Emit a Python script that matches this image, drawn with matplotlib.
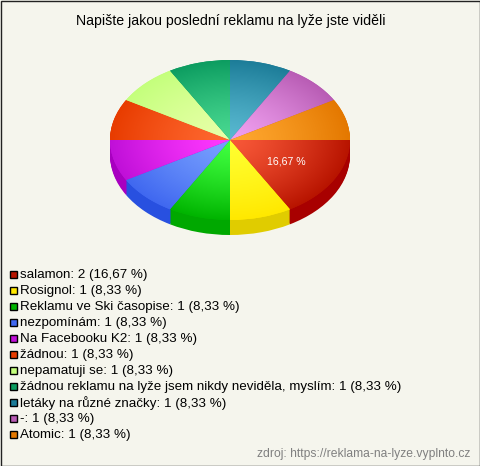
import numpy as np
import matplotlib
matplotlib.use('Agg')
import matplotlib.pyplot as plt
from matplotlib.colors import LinearSegmentedColormap, to_rgb
from matplotlib.patches import Rectangle

plt.rcParams['font.family'] = ['Liberation Sans', 'DejaVu Sans']

W, H = 480, 466

title = 'Napište jakou poslední reklamu na lyže jste viděli'
source = 'zdroj: https://reklama-na-lyze.vyplnto.cz'
labels = ['salamon', 'Rosignol', 'Reklamu ve Ski časopise', 'nezpomínám', 'Na Facebooku K2',
          'žádnou', 'nepamatuji se', 'žádnou reklamu na lyže jsem nikdy neviděla, myslím',
          'letáky na různé značky', '-', 'Atomic']
counts = [2, 1, 1, 1, 1, 1, 1, 1, 1, 1, 1]
percents = ['16,67', '8,33', '8,33', '8,33', '8,33', '8,33', '8,33', '8,33', '8,33', '8,33', '8,33']

outer_colors = ['#b81400', '#ffe800', '#00b400', '#4068f0', '#c010d8', '#e83c00',
                '#c4ff7c', '#0c9c60', '#1c7c98', '#b85cb4', '#e47800']
inner_colors = ['#f85838', '#ffff30', '#40ff40', '#78a0ff', '#ff38ff', '#ff6830',
                '#e8ffa8', '#48d890', '#58b8d0', '#f0a0f0', '#ffa830']
side_colors = ['#a80000', '#e0cc00', '#00a800', '#2850e0', '#a800c0', '#c83000',
               '#a0d860', '#008048', '#006080', '#984098', '#c06000']

BG = '#f5f5ed'
CX_LEFT, CX_RIGHT = 110, 350
TOP, MID, DEPTH = 60, 140, 15
RY = MID - TOP


def px_rect(x0, y0, x1, y1):
    """pixel box (y from the top) to figure fractions"""
    return [x0 / W, 1 - y1 / H, (x1 - x0) / W, (y1 - y0) / H]


def pct_label(p):
    # only the double slice carries a label
    return f'{p:.2f}'.replace('.', ',') + ' %' if p > 10 else ''


fig = plt.figure(figsize=(W / 100, H / 100), dpi=100, facecolor=BG)

# frame, legend and titles are in pixel coordinates
bg = fig.add_axes([0, 0, 1, 1])
bg.set_xlim(0, W)
bg.set_ylim(H, 0)
bg.axis('off')
bg.add_patch(Rectangle((0.5, 0.5), W - 1, H - 1, fill=False, edgecolor='#222222', linewidth=1))

bg.text(231, 20.5, title, ha='center', va='center', fontsize=10.2, color='black')
bg.text(470, 454.5, source, ha='right', va='center', fontsize=8.7, color='#808080')

for i, lab in enumerate(labels):
    y = 274 + i * 16
    bg.add_patch(Rectangle((9.5, y - 3.5), 7, 7, facecolor=outer_colors[i], edgecolor='black', linewidth=1))
    bg.text(20, y + 1, f'{lab}: {counts[i]} ({percents[i]} %)', ha='left', va='center',
            fontsize=9.65, color='black')

# pie
ax = fig.add_axes(px_rect(CX_LEFT, TOP, CX_RIGHT, MID + RY + DEPTH))
ax.patch.set_alpha(0)

for d in range(DEPTH, 0, -1):
    ax.pie(counts, colors=side_colors, startangle=0, counterclock=False,
           center=(0, -d / RY), radius=1, frame=False)

wedges, _, autotexts = ax.pie(counts, colors=outer_colors, startangle=0, counterclock=False,
                              radius=1, autopct=pct_label, pctdistance=0.54,
                              textprops={'color': 'white', 'fontsize': 7.6})

xx, yy = np.meshgrid(np.linspace(-1, 1, 300), np.linspace(-1, 1, 300))
rr = np.clip(np.hypot(xx, yy), 0, 1) ** 1.3
for i, w in enumerate(wedges):
    cmap = LinearSegmentedColormap.from_list(f's{i}', [to_rgb(inner_colors[i]), to_rgb(outer_colors[i])])
    im = ax.imshow(rr, extent=(-1, 1, -1, 1), origin='lower', cmap=cmap, vmin=0, vmax=1,
                   aspect='auto', zorder=w.get_zorder() + 0.5)
    im.set_clip_path(w)
for t in autotexts:
    t.set_zorder(20)

ax.set_aspect('auto')
ax.set_xlim(-1, 1)
ax.set_ylim(-1 - DEPTH / RY, 1)
ax.axis('off')

fig.savefig('out.png', dpi=100, facecolor=BG)
